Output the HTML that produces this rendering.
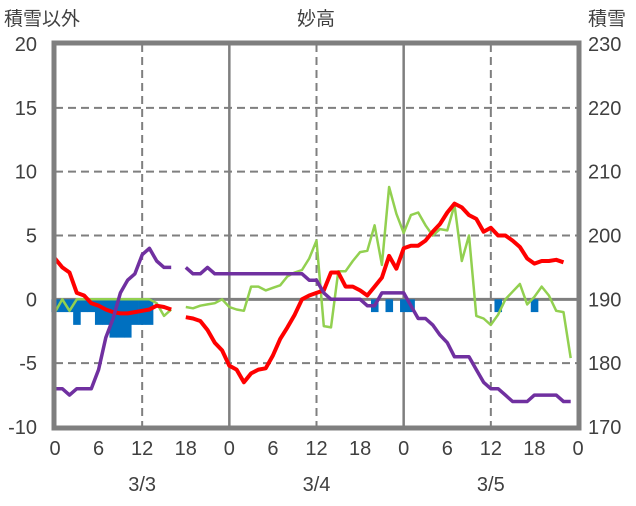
<!DOCTYPE html>
<html><head><meta charset="utf-8"><style>
body{margin:0;background:#fff;}
svg text{font-family:"Liberation Sans","Noto Sans CJK JP",sans-serif;fill:#404040;}
</style></head><body>
<svg id="chart" width="636" height="501" xmlns="http://www.w3.org/2000/svg">
<g id="grid"></g>
<g id="bars"></g>
<g id="lines"></g>
<g id="frame"></g>
<g id="labels"></g>
<text x="4" y="25" font-size="19">積雪以外</text>
<text x="316" y="25" font-size="19" text-anchor="middle">妙高</text>
<text x="588" y="25" font-size="19">積雪</text>
</svg>
<script>
const hours=[0,1,2,3,4,5,6,7,8,9,10,11,12,13,14,15,16,17,18,19,20,21,22,23,24,25,26,27,28,29,30,31,32,33,34,35,36,37,38,39,40,41,42,43,44,45,46,47,48,49,50,51,52,53,54,55,56,57,58,59,60,61,62,63,64,65,66,67,68,69,70,71];
const temp=[3.2,2.5,2.1,0.5,0.3,-0.3,-0.5,-0.8,-1,-1.1,-1.1,-1,-0.9,-0.8,-0.5,-0.6,-0.8,null,-1.4,-1.5,-1.7,-2.4,-3.4,-4,-5.2,-5.5,-6.5,-5.8,-5.5,-5.4,-4.4,-3.1,-2.2,-1.2,0,0.3,0.5,0.7,2.1,2.1,1,1,0.7,0.3,1,1.7,3.4,2.4,4,4.2,4.2,4.6,5.3,5.9,6.8,7.5,7.2,6.6,6.3,5.3,5.6,5,5,4.6,4.1,3.2,2.8,3,3,3.1,2.9,null];
const green=[-1,0,-0.9,0,0,0,0,0,0,0,0,0,0,0,-0.3,-1.3,-0.8,null,-0.6,-0.7,-0.5,-0.4,-0.3,0,-0.6,-0.8,-0.9,1,1,0.7,0.9,1.1,1.8,2.1,2.3,3.2,4.6,-2.1,-2.2,2.2,2.2,3,3.7,3.8,5.8,2.7,8.8,6.7,5.2,6.6,6.8,5.8,5,5.5,5.4,7.4,3,5,-1.3,-1.5,-2,-1.2,0,0.6,1.2,-0.4,0.2,1,0.3,-0.9,-1,-4.6];
const snowDepth=[176,176,175,176,176,176,179,184,187,191,193,194,197,198,196,195,195,null,195,194,194,195,194,194,194,194,194,194,194,194,194,194,194,194,194,193,193,191,190,190,190,190,190,189,189,191,191,191,191,189,187,187,186,184.4,183.2,181,181,181,179,177,176,176,175,174,174,174,175,175,175,175,174,174];
const snowfall=[-1,-1,-1,-2,-1,-1,-2,-2,-3,-3,-3,-2,-2,-2,0,0,0,0,0,0,0,0,0,0,0,0,0,0,0,0,0,0,0,0,0,0,0,0,0,0,0,0,0,0,-1,0,-1,0,-1,-1,0,0,0,0,0,0,0,0,0,0,0,-1,0,0,0,0,-1,0,0,0,0,0];
const leftTicks=[20,15,10,5,0,-5,-10];
const rightTicks=[230,220,210,200,190,180,170];
const xTicks=[0,6,12,18,24,30,36,42,48,54,60,66,72];
const xTickLabels=["0","6","12","18","0","6","12","18","0","6","12","18","0"];
const dates=["3/3","3/4","3/5"];
const dateHours=[12,36,60];

const X0=55,X1=578,Y0=44,Y1=427;
const x=h=>X0+(X1-X0)*h/72;
const y=v=>Y1-(Y1-Y0)*(v+10)/30;
const yr=v=>Y1-(Y1-Y0)*(v-170)/60;
const NS="http://www.w3.org/2000/svg";
function mk(tag,attrs,parent){const e=document.createElementNS(NS,tag);for(const k in attrs)e.setAttribute(k,attrs[k]);parent.appendChild(e);return e;}
const grid=document.getElementById('grid'),bars=document.getElementById('bars'),lines=document.getElementById('lines'),frame=document.getElementById('frame'),labels=document.getElementById('labels');
leftTicks.forEach(t=>{if(t===20||t===-10)return;const l=mk('line',{x1:X0,x2:X1,y1:y(t),y2:y(t),stroke:'#7f7f7f','stroke-width':t===0?3:2,'stroke-dasharray':t===0?'':'8,5'},grid);

});
xTicks.forEach(h=>{if(h===0||h===72||h%12)return;const solid=h%24===0;const l=mk('line',{x1:x(h),x2:x(h),y1:Y0,y2:Y1,stroke:'#7f7f7f','stroke-width':solid?2.5:2,'stroke-dasharray':solid?'':'8,5'},grid);

});
const bw=(X1-X0)/72;
snowfall.forEach((v,i)=>{if(!v)return;const r=mk('rect',{x:x(hours[i])-bw/2,y:y(0),width:bw+0.3,height:y(v)-y(0),fill:'#0070c0'},bars);

});
function path(vals,fy){let d='',pen=false;vals.forEach((v,i)=>{if(v===null){pen=false;return;}d+=(pen?'L':'M')+x(hours[i]).toFixed(1)+','+fy(v).toFixed(1);pen=true;});return d;}
const pg=mk('path',{d:path(green,y),fill:'none',stroke:'#92d050','stroke-width':2.5,'stroke-linejoin':'round'},lines);


const pt=mk('path',{d:path(temp,y),fill:'none',stroke:'#ff0000','stroke-width':4,'stroke-linejoin':'round'},lines);


const ps=mk('path',{d:path(snowDepth,yr),fill:'none',stroke:'#7030a0','stroke-width':3.5,'stroke-linejoin':'round'},lines);


const fr=mk('rect',{x:X0-1,y:Y0-1,width:X1-X0+2,height:Y1-Y0+2,fill:'none',stroke:'#7f7f7f','stroke-width':5},frame);


leftTicks.forEach(t=>{const e=mk('text',{x:37,y:y(t)+7,'font-size':20,'text-anchor':'end'},labels);e.textContent=t;

});
rightTicks.forEach(t=>{const e=mk('text',{x:588,y:yr(t)+7,'font-size':20},labels);e.textContent=t;

});
xTicks.forEach((h,i)=>{const e=mk('text',{x:x(h),y:455,'font-size':20,'text-anchor':'middle'},labels);e.textContent=xTickLabels[i];

});
dates.forEach((d,i)=>{const e=mk('text',{x:x(dateHours[i]),y:491,'font-size':20,'text-anchor':'middle'},labels);e.textContent=d;

});
</script>
</body></html>
